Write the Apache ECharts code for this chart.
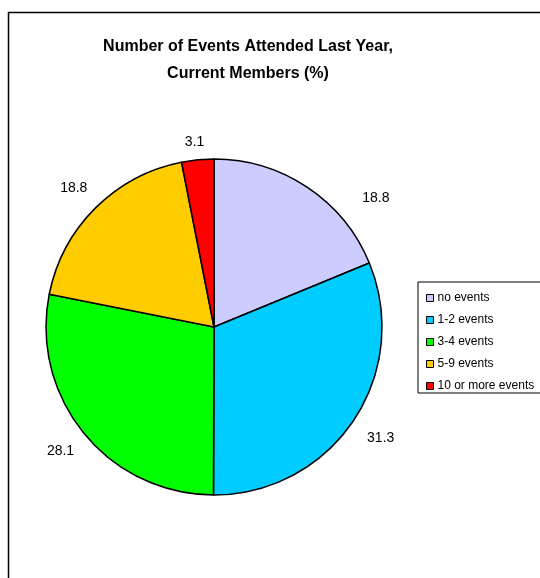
<!DOCTYPE html>
<html><head><meta charset="utf-8">
<script src="https://cdn.jsdelivr.net/npm/echarts@6/dist/echarts.min.js"></script>
<style>html,body{margin:0;padding:0;background:#fff}#c{width:540px;height:578px}</style>
</head><body><div id="c"></div>
<script>
const categories = ['no events', '1-2 events', '3-4 events', '5-9 events', '10 or more events'];
const values = [18.8, 31.3, 28.1, 18.8, 3.1];
const colors = ['#CCCCFF', '#00CCFF', '#00FF00', '#FFCC00', '#FF0000'];
const titleText = 'Number of Events Attended Last Year,\nCurrent Members (%)';
// label nudges (pixels) to mimic the original label placement
const labelShift = [[42, 22], [-3, 10], [6, 9], [7, -10], [13, -4]];

const chart = echarts.init(document.getElementById('c'), null, {renderer: 'canvas'});
const font = 'Liberation Sans, Arial, sans-serif';
chart.setOption({
  animation: false,
  backgroundColor: '#fff',
  title: {
    text: titleText, left: 243, top: 28, textAlign: 'center',
    textStyle: {fontFamily: font, fontSize: 16, fontWeight: 'bold', color: '#000', lineHeight: 27}
  },
  graphic: [{
    type: 'rect', shape: {x: 8.5, y: 12.5, width: 700, height: 700},
    style: {fill: 'none', stroke: '#000', lineWidth: 1.5}, z: 100
  }],
  legend: {
    orient: 'vertical', left: 418, top: 282,
    data: categories,
    icon: 'rect', itemWidth: 7, itemHeight: 7, itemGap: 10,
    padding: [10, 30, 1, 8],
    borderColor: '#000', borderWidth: 1, borderRadius: 0,
    itemStyle: {borderColor: '#000', borderWidth: 1},
    textStyle: {fontFamily: font, fontSize: 12, lineHeight: 11, color: '#000', padding: [0, 0, 0, -1]},
    selectedMode: false
  },
  series: [{
    type: 'pie',
    center: [214, 327],
    radius: 168,
    startAngle: 90,
    clockwise: true,
    data: categories.map((c, i) => ({name: c, value: values[i], itemStyle: {color: colors[i]}})),
    itemStyle: {borderColor: '#000', borderWidth: 1.5},
    label: {
      show: true, position: 'outside', formatter: p => p.value.toFixed(1),
      fontFamily: font, fontSize: 14, color: '#000'
    },
    labelLine: {show: false, length: 14, length2: 0},
    labelLayout: p => ({dx: labelShift[p.dataIndex][0], dy: labelShift[p.dataIndex][1]}),
    emphasis: {disabled: true}
  }]
});
</script></body></html>
